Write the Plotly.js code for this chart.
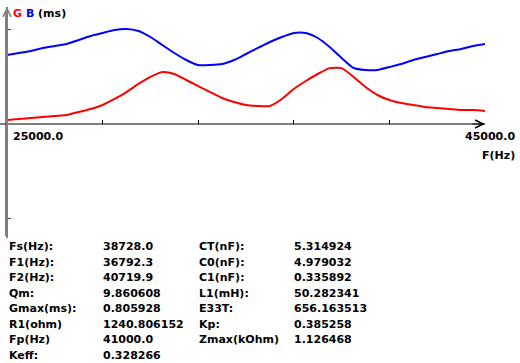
<!DOCTYPE html>
<html>
<head>
<meta charset="utf-8">
<script src="https://cdn.plot.ly/plotly-3.0.1.min.js"></script>
<style>html,body{margin:0;padding:0;background:#fff;}#chart{width:520px;height:363px;}</style>
</head>
<body>
<div id="chart"></div>
<script>
// Frequency (Hz), every 500 Hz from 25000 to 45000
const freq = [];
for (let f = 25000; f <= 45000; f += 500) freq.push(f);

// Conductance G (ms) - red
const gValues = [0.057,0.071,0.085,0.099,0.113,0.127,0.170,0.212,0.269,0.354,
  0.452,0.566,0.665,0.735,0.707,0.622,0.537,0.452,0.368,0.311,
  0.269,0.255,0.255,0.354,0.495,0.608,0.707,0.790,0.790,0.665,
  0.523,0.410,0.339,0.297,0.269,0.240,0.226,0.212,0.198,0.198,0.184];

// Susceptance B (ms) - blue
const bValues = [0.976,1.004,1.032,1.075,1.103,1.131,1.188,1.244,1.287,1.329,
  1.343,1.315,1.230,1.117,1.004,0.905,0.834,0.834,0.848,0.905,
  0.990,1.075,1.159,1.230,1.287,1.287,1.216,1.089,0.933,0.792,
  0.764,0.764,0.806,0.848,0.905,0.947,0.990,1.032,1.061,1.103,1.131];

const xRangeLabels = ["25000.0", "45000.0"];
const xTickVals = [29000, 33000, 37000, 41000, 45000];
const yTickVals = [-1.343, 1.343];

const leftLabels  = ["Fs(Hz):","F1(Hz):","F2(Hz):","Qm:","Gmax(ms):","R1(ohm)","Fp(Hz)","Keff:"];
const leftValues  = ["38728.0","36792.3","40719.9","9.860608","0.805928","1240.806152","41000.0","0.328266"];
const rightLabels = ["CT(nF):","C0(nF):","C1(nF):","L1(mH):","E33T:","Kp:","Zmax(kOhm)"];
const rightValues = ["5.314924","4.979032","0.335892","50.282341","656.163513","0.385258","1.126468"];

const W = 520, H = 363;
const M = {l: 7, r: 35, t: 10, b: 127};
const PW = W - M.l - M.r, PH = H - M.t - M.b;
const px = x => (x - M.l) / PW;
const py = y => (H - M.b - y) / PH;

const font = {family: "DejaVu Sans", size: 11, color: "#000", weight: "bold"};

const traces = [
  {x: freq, y: bValues, type: "scatter", mode: "lines",
   line: {color: "#0000ff", width: 2, shape: "spline", smoothing: 0.6}, hoverinfo: "skip"},
  {x: freq, y: gValues, type: "scatter", mode: "lines",
   line: {color: "#ff0000", width: 2, shape: "spline", smoothing: 0.6}, hoverinfo: "skip"}
];

const ann = [];
ann.push({xref: "paper", yref: "paper", x: px(11), y: py(13), xanchor: "left", yanchor: "middle",
  showarrow: false, font: font,
  text: '<span style="color:#ff0000">G</span> <span style="color:#0000ff">B</span> (ms)'});
ann.push({xref: "paper", yref: "paper", x: px(11), y: py(136), xanchor: "left", yanchor: "middle",
  showarrow: false, font: font, text: xRangeLabels[0]});
ann.push({xref: "paper", yref: "paper", x: px(517), y: py(136), xanchor: "right", yanchor: "middle",
  showarrow: false, font: font, text: xRangeLabels[1]});
ann.push({xref: "paper", yref: "paper", x: px(517), y: py(155), xanchor: "right", yanchor: "middle",
  showarrow: false, font: font, text: "F(Hz)"});

const rowY = k => 246.5 + 15.5 * k;
leftLabels.forEach((t, k) => ann.push({xref: "paper", yref: "paper", x: px(7), y: py(rowY(k)),
  xanchor: "left", yanchor: "middle", showarrow: false, font: font, text: t}));
leftValues.forEach((t, k) => ann.push({xref: "paper", yref: "paper", x: px(101), y: py(rowY(k)),
  xanchor: "left", yanchor: "middle", showarrow: false, font: font, text: t}));
rightLabels.forEach((t, k) => ann.push({xref: "paper", yref: "paper", x: px(197), y: py(rowY(k)),
  xanchor: "left", yanchor: "middle", showarrow: false, font: font, text: t}));
rightValues.forEach((t, k) => ann.push({xref: "paper", yref: "paper", x: px(292), y: py(rowY(k)),
  xanchor: "left", yanchor: "middle", showarrow: false, font: font, text: t}));

// axis arrowheads as annotation arrows
ann.push({xref: "paper", yref: "paper", x: 1, y: py(124), ax: -14, ay: 0, text: "", showarrow: true,
  arrowhead: 5, arrowsize: 1.6, arrowwidth: 1, arrowcolor: "#000"});
ann.push({xref: "paper", yref: "paper", x: 0, y: py(7), ax: 0, ay: 14, text: "", showarrow: true,
  arrowhead: 5, arrowsize: 1.6, arrowwidth: 1, arrowcolor: "#808080"});

const layout = {
  width: W, height: H,
  margin: M,
  paper_bgcolor: "#fff", plot_bgcolor: "#fff",
  showlegend: false,
  xaxis: {range: [25000, 45000], anchor: "free", position: py(124), showline: false,
    showgrid: false, zeroline: false, ticks: "inside", ticklen: 4, tickcolor: "#000", tickwidth: 1,
    tickvals: xTickVals, showticklabels: false, fixedrange: true},
  yaxis: {range: [-(236 - 124) * 0.01414, (124 - 10) * 0.01414], showline: true, linecolor: "#808080",
    linewidth: 2, showgrid: false, zeroline: false, ticks: "inside", ticklen: 4, tickcolor: "#404040",
    tickwidth: 1, tickvals: yTickVals, showticklabels: false, fixedrange: true},
  shapes: [
    {type: "line", xref: "paper", yref: "paper", x0: px(0), x1: 1, y0: py(124), y1: py(124),
     line: {color: "#000", width: 1}},
    {type: "line", xref: "paper", yref: "paper", x0: px(7), x1: px(7), y0: py(238), y1: py(7),
     line: {color: "#808080", width: 2}}
  ],
  annotations: ann
};

Plotly.newPlot("chart", traces, layout, {staticPlot: true, displayModeBar: false});
</script>
</body>
</html>
